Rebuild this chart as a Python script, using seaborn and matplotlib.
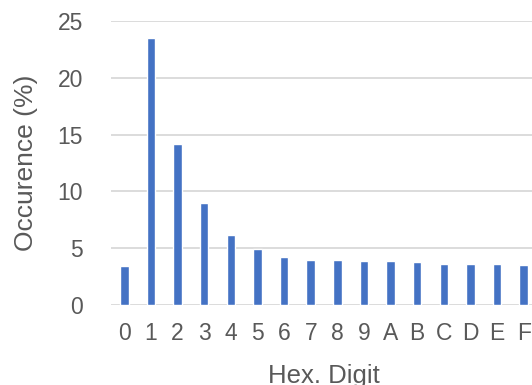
import pandas as pd
import matplotlib.pyplot as plt
import seaborn as sns

digits = ['0', '1', '2', '3', '4', '5', '6', '7', '8', '9', 'A', 'B', 'C', 'D', 'E', 'F']
occurence = [3.4, 23.5, 14.2, 9.0, 6.2, 4.9, 4.25, 4.0, 3.95, 3.9, 3.85, 3.8, 3.65, 3.62, 3.57, 3.48]
y_ticks = [0, 5, 10, 15, 20, 25]

sns.set_style('white')
plt.rcParams['font.family'] = ['Liberation Sans', 'DejaVu Sans']

data = pd.DataFrame({'digit': digits, 'occurence': occurence})

fig = plt.figure(figsize=(5.32, 3.85), dpi=100)
ax = fig.add_axes([111 / 532, 1 - 305 / 385, (537 - 111) / 532, (305 - 21) / 385])

sns.barplot(data=data, x='digit', y='occurence', color='#4472C4', saturation=1,
            width=0.32, ax=ax, zorder=3)

ax.set_ylim(0, 25)
ax.set_xlim(-0.5, 15.5)
ax.set_yticks(y_ticks)
ax.yaxis.grid(True, color='#D9D9D9', linewidth=1.3, zorder=0)
ax.set_axisbelow(True)
for s in ax.spines.values():
    s.set_visible(False)
ax.tick_params(axis='both', length=0, labelsize=16.5, labelcolor='#595959')
ax.tick_params(axis='y', pad=20)
ax.tick_params(axis='x', pad=12)
ax.set_ylabel('Occurence (%)', fontsize=19, color='#595959', labelpad=14)
ax.set_xlabel('Hex. Digit', fontsize=18.5, color='#595959', labelpad=14)

fig.savefig('out.png', dpi=100)
